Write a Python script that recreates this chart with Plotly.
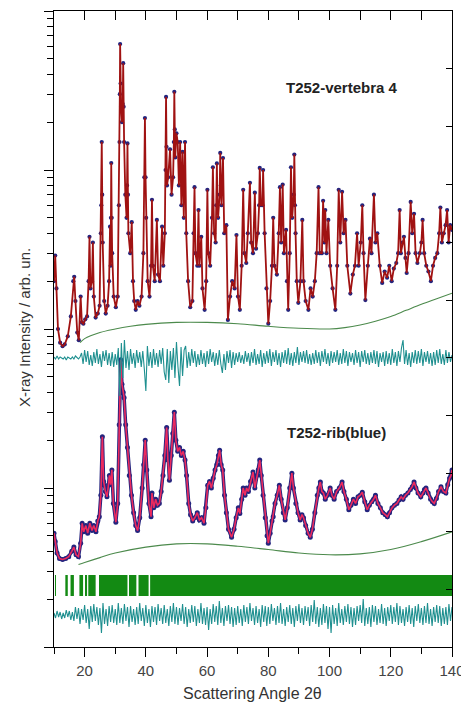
import numpy as np
import plotly.graph_objects as go

# ---------------- data ----------------
two_theta_range = [10, 140]
x_tick_labels = [20, 40, 60, 80, 100, 120, 140]

# T252-vertebra 4 : (2theta, intensity)
vertebra_profile = [
    (10.0, 200), (10.4, 290), (10.8, 180), (11.3, 100), (12.0, 82), (12.8, 78), (13.5, 80), (14.5, 90),
    (15.5, 120), (16.3, 200), (16.6, 213), (17.0, 150), (17.6, 95), (18.1, 85), (18.7, 160), (19.1, 110),
    (19.6, 108), (20.2, 115), (20.8, 120), (21.3, 200), (21.6, 380), (21.9, 180), (22.4, 200), (22.7, 350),
    (23.0, 160), (23.6, 118), (24.3, 125), (24.9, 140), (25.3, 400), (25.45, 600), (25.6, 1500), (25.75, 700),
    (25.9, 350), (26.4, 150), (26.9, 125), (27.5, 140), (28.0, 200), (28.3, 440), (28.5, 250), (28.6, 500),
    (28.7, 1107), (28.85, 500), (29.0, 300), (29.5, 160), (30.2, 137), (30.8, 160), (31.2, 600), (31.4, 1500),
    (31.5, 3000), (31.6, 6200), (31.75, 3500), (31.9, 2500), (32.2, 2000), (32.45, 2600), (32.6, 4700),
    (32.75, 2500), (32.9, 1500), (33.3, 700), (33.7, 500), (33.85, 800), (34.0, 1470), (34.15, 700), (34.3, 400),
    (34.9, 300), (35.4, 470), (35.8, 200), (36.2, 150), (36.7, 132), (37.3, 150), (37.9, 140), (38.6, 160),
    (39.2, 300), (39.5, 900), (39.7, 2120), (39.9, 900), (40.1, 500), (40.6, 200), (41.2, 160), (41.7, 250),
    (42.0, 650), (42.3, 250), (42.9, 200), (43.6, 485), (44.0, 220), (44.6, 200), (45.3, 440), (45.7, 250),
    (46.2, 400), (46.45, 1000), (46.6, 2880), (46.75, 1400), (46.9, 800), (47.3, 900), (47.9, 1350), (48.4, 700),
    (48.9, 900), (49.15, 1500), (49.3, 3100), (49.45, 1800), (49.6, 1200), (50.0, 1700), (50.4, 1500),
    (50.8, 800), (51.2, 1500), (51.6, 600), (52.0, 1300), (52.4, 500), (52.8, 1500), (53.2, 400), (53.8, 200),
    (54.5, 137), (55.2, 150), (55.6, 400), (55.9, 780), (56.2, 300), (56.8, 250), (57.2, 560), (57.5, 250),
    (58.1, 380), (58.5, 180), (59.2, 132), (59.7, 200), (60.1, 750), (60.4, 300), (61.0, 250), (61.6, 500),
    (61.9, 1040), (62.3, 400), (62.8, 350), (63.0, 600), (63.2, 1100), (63.4, 600), (63.6, 500), (64.1, 700),
    (64.3, 1280), (64.5, 800), (64.7, 600), (65.2, 1190), (65.6, 400), (66.3, 450), (66.8, 114), (67.5, 160),
    (68.2, 200), (69.0, 180), (69.6, 390), (70.1, 160), (70.7, 132), (71.3, 250), (71.8, 750), (72.2, 300),
    (72.8, 260), (73.3, 400), (74.0, 830), (74.4, 350), (75.0, 300), (75.6, 720), (76.0, 320), (76.6, 400),
    (77.0, 600), (77.2, 1030), (77.6, 600), (78.1, 600), (78.3, 1000), (78.8, 400), (79.4, 180), (80.0, 108),
    (80.6, 150), (81.2, 250), (81.6, 500), (82.0, 250), (82.8, 220), (83.4, 400), (83.8, 780), (84.2, 350),
    (84.7, 810), (85.1, 300), (85.8, 420), (86.1, 200), (86.5, 132), (87.0, 300), (87.4, 1040), (87.8, 500),
    (88.3, 700), (88.5, 1250), (88.7, 600), (88.9, 400), (89.3, 200), (89.8, 146), (90.5, 200), (91.1, 485),
    (91.5, 200), (92.2, 150), (93.1, 132), (93.8, 180), (94.5, 160), (95.2, 200), (95.8, 300), (96.4, 780),
    (96.8, 300), (97.5, 300), (97.9, 640), (98.3, 350), (98.6, 560), (99.0, 300), (99.6, 485), (100.2, 250),
    (101.0, 180), (101.9, 132), (102.5, 250), (103.0, 750), (103.5, 350), (104.1, 730), (104.6, 400),
    (105.2, 485), (105.8, 250), (106.8, 167), (107.6, 220), (108.3, 250), (109.0, 400), (109.5, 250),
    (110.2, 350), (110.7, 600), (111.1, 300), (111.7, 152), (112.5, 250), (113.2, 370), (113.7, 300),
    (114.5, 700), (115.0, 350), (115.6, 400), (116.4, 250), (117.2, 195), (118.0, 230), (118.8, 210),
    (119.5, 250), (120.3, 200), (121.0, 240), (121.8, 260), (122.4, 300), (122.9, 560), (123.3, 300),
    (123.8, 350), (124.3, 380), (124.8, 280), (125.2, 225), (125.8, 300), (126.5, 630), (127.0, 400),
    (127.6, 530), (128.1, 300), (128.7, 260), (129.5, 300), (130.0, 350), (130.4, 485), (130.9, 300),
    (131.6, 250), (132.3, 230), (133.1, 200), (133.8, 250), (134.5, 280), (135.2, 300), (135.8, 400),
    (136.2, 580), (136.7, 350), (137.3, 400), (137.9, 450), (138.4, 560), (138.9, 350), (139.4, 450),
    (140.0, 420),
]
vertebra_bg_2theta = [18.5, 20, 25, 30, 35, 40, 50, 60, 70, 80, 90, 100, 105, 110, 115, 120, 125, 130, 135, 140]
vertebra_bg = [82, 87, 95, 100, 104, 107, 110, 110, 108, 104, 101, 100, 102, 106, 112, 120, 131, 143, 155, 168]

# T252-rib(blue) : (2theta, intensity)
rib_profile = [
    (10.0, 5.2), (10.4, 4.6), (11.0, 3.9), (11.8, 3.6), (12.8, 3.55), (13.8, 3.6), (14.8, 3.7), (15.8, 4.0),
    (16.5, 4.25), (17.2, 3.8), (18.0, 3.7), (18.7, 4.5), (19.2, 6.0), (19.7, 5.3), (20.4, 5.8), (21.0, 5.2),
    (21.7, 6.0), (22.4, 5.4), (23.0, 5.8), (23.7, 5.3), (24.3, 6.2), (24.8, 6.6), (25.3, 9), (25.8, 21),
    (26.2, 11), (26.8, 9.5), (27.3, 8.8), (27.8, 10.5), (28.1, 12), (28.5, 10.5), (28.9, 13), (29.4, 8),
    (30.2, 6.1), (30.8, 8), (31.3, 25), (31.8, 64), (32.2, 45), (32.6, 40), (32.9, 37), (33.4, 25),
    (34.0, 18), (34.6, 12), (35.3, 9), (36.0, 7), (36.7, 5.8), (37.3, 5.4), (38.0, 6.5), (38.8, 10),
    (39.3, 14), (39.8, 20), (40.3, 13), (41.0, 8), (41.7, 6.6), (42.0, 9.3), (42.6, 7.5), (43.2, 8.5),
    (43.8, 7.8), (44.4, 8), (45.0, 9.5), (45.6, 12), (46.2, 16), (46.8, 24), (47.2, 15), (47.7, 11.2),
    (48.3, 16), (48.8, 22), (49.3, 30), (49.8, 20), (50.4, 17), (51.0, 18), (51.6, 16), (52.2, 17),
    (52.8, 15), (53.3, 12), (54.0, 8), (54.6, 6.8), (55.3, 6.2), (56.0, 6.5), (56.8, 7), (57.5, 6.3),
    (58.2, 6.5), (59.0, 6), (59.6, 7.5), (60.2, 10.4), (60.8, 11), (61.4, 10), (62.0, 11.5), (62.6, 13),
    (63.2, 14), (63.7, 16), (64.1, 17.3), (64.6, 14), (65.1, 13), (65.7, 9), (66.3, 7), (67.0, 5.5),
    (68.0, 4.9), (68.8, 5.5), (69.5, 6.5), (70.2, 7.5), (70.7, 6.9), (71.3, 8.5), (71.8, 10), (72.4, 9),
    (72.9, 10), (73.5, 9.5), (74.2, 11), (75.0, 12.6), (75.6, 10), (76.2, 12), (76.7, 13), (77.2, 15),
    (77.7, 12), (78.3, 9), (79.0, 6.5), (79.6, 5), (80.0, 4.5), (80.6, 5.2), (81.2, 6.2), (81.6, 6.6),
    (82.2, 8), (82.9, 9), (83.6, 10.4), (84.2, 8.5), (84.9, 7), (85.5, 6.3), (86.2, 7.5), (87.0, 10),
    (87.7, 12.4), (88.2, 10), (89.0, 8), (89.7, 7), (90.4, 6.3), (91.0, 6.8), (91.5, 6.5), (92.2, 5.8),
    (93.0, 5.2), (93.7, 4.9), (94.4, 5.5), (95.2, 7), (96.0, 9), (96.5, 10), (97.0, 10.9), (97.5, 9.5),
    (98.0, 9.3), (98.6, 8.5), (99.3, 9), (100.2, 10), (100.8, 9), (101.5, 8.5), (102.3, 9.5), (103.2, 10),
    (104.1, 10.9), (104.7, 9.5), (105.5, 8.5), (106.3, 7.3), (107.0, 7.8), (107.8, 8.5), (108.5, 8), (109.3, 8.8),
    (110.0, 9), (110.7, 9.4), (111.5, 8.2), (112.3, 7.3), (113.0, 7.8), (113.8, 8.2), (114.4, 8.5), (115.0, 9),
    (115.8, 8), (116.6, 7.5), (117.4, 7), (118.2, 6.8), (118.9, 6.6), (119.6, 7), (120.4, 7.5), (121.2, 7.8),
    (122.0, 8), (122.7, 8.4), (123.4, 8.8), (124.0, 8.5), (124.8, 9), (125.6, 9.3), (126.4, 9.8), (127.0, 10.2),
    (127.6, 10.9), (128.2, 10), (128.9, 9.3), (129.8, 8.8), (130.5, 9.3), (131.0, 9.8), (131.5, 10), (132.2, 9.3),
    (133.0, 8.5), (133.6, 8.2), (134.2, 8), (134.9, 8.6), (135.6, 9.5), (136.4, 10.2), (137.2, 9.5), (138.0, 9.3),
    (138.6, 10.5), (139.2, 11.5), (139.7, 12), (140.0, 13),
]
rib_bg_2theta = [18, 20, 25, 30, 40, 50, 60, 70, 80, 90, 100, 110, 120, 130, 140]
rib_bg = [3.3, 3.4, 3.65, 3.9, 4.25, 4.45, 4.45, 4.3, 4.1, 3.9, 3.8, 3.85, 4.1, 4.6, 5.3]

# difference curves (obs - calc), arb. units, on a 0.5 deg grid from 10 to 140
diff_step = 0.5
vertebra_diff = [
    1, -1, 2, -1, 1, 0, -1, 1, -2, 1, 0, -1, 1, -1, 2, 0, -1, 1,
    5, -6, 8, -4, 7, -7, 3, -8, 6, -5,
    9, -6, 4, -9, 7, -3, 8, -7, 5, -8,
    6, -9, 4, -7, 10, -38, 15, -20, 18, -10,
    7, -12, 9, -6, 5, -10, 8, -5, 6, -9,
    7, -11, -33, 12, -8, 6, -10, 9, -7, 5,
    -9, 8, -6, 10, -14, -22, 9, -25, 7, -12,
    10, -20, 16, -9, -28, 11, -18, 8, 12, -10,
    6, -8, 9, -5, 7, -9, 4, -7, 8, -6,
    5, -9, 7, -6, 9, -4, 6, -8, 5, -7,
    8, -6, -15, 4, -12, 7, -5, 8, -10, 6,
    -7, 5, -4, 6, -5, 3, -6, 7, -4, 5,
    -8, 6, -5, 9, -7, 4, -6, 8, -9, 5,
    -6, 7, -5, 9, -8, 6, -4, 8, -7, 5,
    -9, 6, -5, 8, -6, 10, -7, 5, -8, 6,
    -5, 11, -7, 6, -4, 7, -5, 8, -6, 4,
    -7, 5, -6, 8, -5, 6, -8, 7, -4, 9,
    -6, 5, -8, 7, -5, 6, -4, 8, -7, 5,
    -6, 9, -5, 7, -8, 6, -4, 5, -7, 8,
    -5, 6, -9, 7, -4, 8, -6, 5, -7, 6,
    -5, 8, -6, 7, -9, 5, -4, 6, -8, 7,
    -6, 5, -7, 9, -5, 6, -8, 7, -4, 10,
    18, -6, 8, -7, 5, -9, 6, -5, 8, -6,
    7, -5, 9, -8, 6, -4, 7, -6, 5, -8,
    6, -7, 8, -5, 9, -6, 4, -7, 8, -5,
    6, -4, 3,
]
rib_diff = [
    2, -3, 4, -2, 3, -4, 2, -3, 5, -2,
    4, -5, 3, -6, 8, -4, 7, -9, 6, -5,
    10, -8, 6, -14, 9, -7, 11, -6, 8, -10,
    7, -18, 12, -9, 6, -11, 9, -7, 10, -8,
    6, -10, 12, -8, 7, -9, 11, -6, 8, -12,
    9, -7, 6, -10, 8, -9, 12, -6, 7, -11,
    10, -8, 6, -12, 9, -7, 8, -10, 11, -6,
    7, -9, 10, -8, 6, -11, 9, -7, 12, -9,
    8, -10, 7, -6, 11, -9, 8, -12, 6, -8,
    10, -7, 9, -11, 6, -8, 12, -9, 7, -10,
    8, -15, 6, -9, 11, -7, 9, -10, 14, -8,
    7, -11, 9, -6, 10, -9, 8, -12, 7, -10,
    9, -8, 6, -11, 10, -7, 8, -9, 12, -6,
    7, -10, 9, -8, 6, -12, 10, -7, 9, -11,
    8, -9, 11, -6, 7, -10, 9, -8, 12, -9,
    6, -11, 8, -7, 10, -9, 7, -12, 9, -6,
    11, -8, 7, -10, 9, -6, 8, -11, 10, -7,
    15, -9, 8, -12, 7, -10, 11, -8, 9, -14,
    8, -18, 10, -9, 7, -11, 12, -8, 6, -10,
    9, -7, 11, -9, 8, -12, 7, -10, 9, -6,
    10, -8, 16, -11, 7, -9, 8, -12, 10, -7,
    9, -10, 6, -8, 11, -9, 7, -11, 8, -6,
    10, -9, 8, -7, 12, -10, 9, -8, 6, -11,
    8, -7, 10, -9, 7, -12, 9, -6, 11, -8,
    7, -10, 9, -8, 12, -9, 6, -11, 8, -7,
    10, -8, 9, -11, 7, -9, 8, -10, 11, -6,
    8,
]

# Bragg reflection marker bands (start, end) in 2theta
reflection_bands = [
    (10.35, 10.65), (13.7, 14.5), (15.4, 16.5), (18.3, 19.5), (20.3, 20.8),
    (21.2, 23.6), (24.7, 34.0), (34.5, 36.9), (37.6, 40.9), (41.4, 140.0),
]

# ---------------- build ----------------
vx, vi = zip(*vertebra_profile)
rx, ri = zip(*rib_profile)
diff_x = two_theta_range[0] + diff_step * np.arange(len(vertebra_diff))
diff_x2 = two_theta_range[0] + diff_step * np.arange(len(rib_diff))
band_c = [(a + b) / 2 for a, b in reflection_bands]
band_w = [b - a for a, b in reflection_bands]

NAVY = "#24247e"
fig = go.Figure()
# vertebra
fig.add_trace(go.Scatter(x=vx, y=vi, mode="markers",
                         marker=dict(color=NAVY, size=4.2), xaxis="x", yaxis="y"))
fig.add_trace(go.Scatter(x=vx, y=vi, mode="lines",
                         line=dict(color="#a01212", width=1.8), xaxis="x", yaxis="y"))
fig.add_trace(go.Scatter(x=vertebra_bg_2theta, y=vertebra_bg, mode="lines",
                         line=dict(color="#4c8a4c", width=1.1, shape="spline"), xaxis="x", yaxis="y"))
# rib
fig.add_trace(go.Scatter(x=rx, y=ri, mode="lines+markers",
                         line=dict(color=NAVY, width=3.5),
                         marker=dict(color=NAVY, size=5), xaxis="x", yaxis="y"))
fig.add_trace(go.Scatter(x=rx, y=ri, mode="lines",
                         line=dict(color="#ec2a5e", width=1.6), xaxis="x", yaxis="y"))
fig.add_trace(go.Scatter(x=rib_bg_2theta, y=rib_bg, mode="lines",
                         line=dict(color="#4c8a4c", width=1.1, shape="spline"), xaxis="x", yaxis="y"))
# difference curves
fig.add_trace(go.Scatter(x=diff_x, y=vertebra_diff, mode="lines",
                         line=dict(color="#1f9090", width=1.1), xaxis="x", yaxis="y3"))
fig.add_trace(go.Scatter(x=diff_x2, y=rib_diff, mode="lines",
                         line=dict(color="#1f9090", width=1.1), xaxis="x", yaxis="y4"))
# reflection bands
fig.add_trace(go.Bar(x=band_c, width=band_w, y=[0.363] * len(band_c), base=0.882,
                     marker=dict(color="#138a13", line=dict(width=0)), xaxis="x", yaxis="y2"))
# dummy trace to materialise the top overlay axis
fig.add_trace(go.Scatter(x=[None], y=[None], xaxis="x3", yaxis="y"))

font = "Liberation Sans, Arial, Helvetica, sans-serif"
# the page body adds an 8 px margin, so the figure is 8 px smaller on each side
fig.update_layout(
    width=461, height=699,
    margin=dict(l=46, r=17, t=3, b=60),
    paper_bgcolor="white", plot_bgcolor="white",
    showlegend=False, barmode="overlay",
    font=dict(family=font, color="#333"),
    xaxis=dict(range=two_theta_range, tickvals=x_tick_labels, ticks="outside", ticklen=9,
               tickwidth=1, tickcolor="black", showline=True, linecolor="black", linewidth=1.2,
               showgrid=False, zeroline=False, tickfont=dict(size=15, color="#444"), automargin=False,
               ticklabelstandoff=1,
               minor=dict(dtick=10, tick0=0, ticks="outside", ticklen=6, tickcolor="black", showgrid=False)),
    xaxis3=dict(range=two_theta_range, overlaying="x", side="top", anchor="y", dtick=10, tick0=0,
                ticks="inside", ticklen=9, tickcolor="black", showticklabels=False, showline=True,
                linecolor="black", linewidth=1.2, showgrid=False, zeroline=False, automargin=False),
    yaxis=dict(type="log", range=[0, 4], dtick=1, ticks="outside", ticklen=9, tickcolor="black",
               showticklabels=False, showline=True, linecolor="black", linewidth=1.2, showgrid=False,
               zeroline=False, automargin=False,
               minor=dict(dtick="D1", ticks="outside", ticklen=6, tickcolor="black", showgrid=False)),
    yaxis2=dict(range=[0, 11], overlaying="y", side="right", anchor="x", dtick=1, ticks="inside",
                ticklen=6, tickcolor="black", showticklabels=False, showline=True, linecolor="black",
                linewidth=1.2, showgrid=False, zeroline=False, automargin=False),
    yaxis3=dict(range=[-289, 347], overlaying="y", visible=False),
    yaxis4=dict(range=[-32, 604], overlaying="y", visible=False),
    annotations=[
        dict(text="<b>T252-vertebra 4</b>", x=0.7236, y=0.879, xref="paper", yref="paper",
             xanchor="center", yanchor="middle",
             showarrow=False, font=dict(size=15, color="#222", family=font)),
        dict(text="<b>T252-rib(blue)</b>", x=0.7093, y=0.338, xref="paper", yref="paper",
             xanchor="center", yanchor="middle",
             showarrow=False, font=dict(size=15, color="#222", family=font)),
        dict(text="Scattering Angle 2θ", x=0.4975, y=-0.0724, xref="paper", yref="paper",
             xanchor="center", yanchor="middle",
             showarrow=False, font=dict(size=16, color="#333", family=font)),
        dict(text="X-ray Intensity / arb. un.", x=-0.0754, y=0.503, xref="paper", yref="paper",
             xanchor="center", yanchor="middle",
             showarrow=False, textangle=-90, font=dict(size=15, color="#333", family=font)),
    ],
)

fig.write_html("out.html")
